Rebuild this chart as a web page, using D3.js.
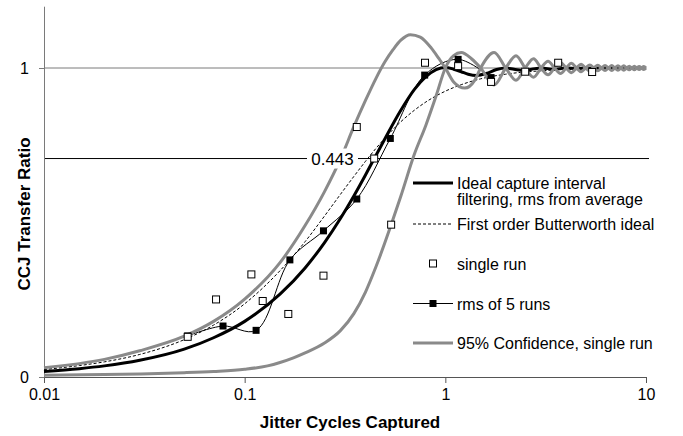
<!DOCTYPE html>
<html>
<head>
<meta charset="utf-8">
<script src="https://cdn.jsdelivr.net/npm/d3@7"></script>
<style>
  body { margin: 0; background: #fff; }
  text { font-family: Arial, "Liberation Sans", sans-serif; }
</style>
</head>
<body>
<div id="chart"></div>
<script>
// Chart values
const xTicks = [0.01, 0.1, 1, 10];
const xTickLabels = ["0.01", "0.1", "1", "10"];
const yTicks = [0, 1];
const yTickLabels = ["0", "1"];
const markLevel = 0.707;      // -3 dB line
const markLabel = "0.443";    // crossing of the ideal curve

// Ideal capture interval filtering, rms from average
const idealCurve = [
    [0.01, 0.018], [0.015, 0.027], [0.02, 0.036], [0.03, 0.054], [0.05, 0.090],
    [0.07, 0.127], [0.1, 0.180], [0.15, 0.268], [0.2, 0.353], [0.25, 0.435],
    [0.3, 0.513], [0.35, 0.586], [0.4, 0.654], [0.45, 0.716], [0.5, 0.771],
    [0.6, 0.863], [0.7, 0.930], [0.8, 0.972], [0.9, 0.995], [1.0, 1.002],
    [1.1, 0.996], [1.2, 0.988], [1.3, 0.980], [1.43, 0.976], [1.6, 0.982],
    [1.8, 0.995], [2.0, 1.0], [2.2, 0.996], [2.46, 0.992], [2.8, 0.998],
    [3.0, 1.0], [3.47, 0.996], [4.0, 1.0], [4.5, 0.998], [5.0, 1.0],
    [5.5, 0.998], [6.0, 1.0], [8.0, 1.0], [10, 1.0]
];

// First order Butterworth ideal
const butterworthCurve = [
    [0.01, 0.024], [0.015, 0.037], [0.02, 0.049], [0.03, 0.073], [0.05, 0.121],
    [0.07, 0.168], [0.1, 0.237], [0.15, 0.344], [0.2, 0.438], [0.25, 0.521],
    [0.3, 0.591], [0.35, 0.649], [0.4, 0.698], [0.45, 0.739], [0.5, 0.773],
    [0.6, 0.826], [0.7, 0.863], [0.8, 0.890], [1.0, 0.925], [1.2, 0.946],
    [1.5, 0.965], [2.0, 0.980], [3.0, 0.991], [5.0, 0.997], [10, 0.999]
];

// single run
const singleRun = [
    [0.052, 0.130], [0.072, 0.251], [0.108, 0.332], [0.123, 0.246], [0.165, 0.204],
    [0.247, 0.328], [0.362, 0.809], [0.442, 0.707], [0.537, 0.493], [0.792, 1.017],
    [1.158, 1.006], [1.69, 0.955], [2.50, 0.988], [3.65, 1.017], [5.39, 0.987]
];

// rms of 5 runs
const rmsRuns = [
    [0.052, 0.133], [0.078, 0.165], [0.114, 0.151], [0.168, 0.379], [0.247, 0.473],
    [0.362, 0.576], [0.532, 0.772], [0.789, 0.977], [1.158, 1.028], [1.69, 0.969]
];

// 95% Confidence, single run (upper and lower bound)
const confUpper = [
    [0.01, 0.030], [0.02, 0.057], [0.03, 0.085], [0.05, 0.132], [0.07, 0.180],
    [0.1, 0.252], [0.15, 0.370], [0.2, 0.490], [0.25, 0.600], [0.3, 0.705],
    [0.35, 0.810], [0.4, 0.895], [0.45, 0.965], [0.5, 1.020], [0.55, 1.060],
    [0.6, 1.090], [0.67, 1.108], [0.75, 1.100], [0.85, 1.065], [0.93, 1.030],
    [1.0, 1.0], [1.1, 0.955], [1.25, 0.935], [1.4, 0.960], [1.5, 1.0],
    [1.75, 1.050], [2.0, 1.0], [2.25, 0.960], [2.5, 1.0], [2.75, 1.030],
    [3.0, 1.0], [3.25, 0.978], [3.5, 1.0], [3.75, 1.018], [4.0, 1.0],
    [4.25, 0.985], [4.5, 1.0], [4.75, 1.012], [5.0, 1.0], [5.25, 0.990],
    [5.5, 1.0], [5.75, 1.009], [6.0, 1.0], [6.25, 0.992], [6.5, 1.0],
    [6.75, 1.008], [7.0, 1.0], [7.25, 0.993], [7.5, 1.0], [7.75, 1.007],
    [8.0, 1.0], [8.25, 0.994], [8.5, 1.0], [8.75, 1.006], [9.0, 1.0],
    [9.25, 0.995], [9.5, 1.0], [9.75, 1.005], [10, 1.0]
];
const confLower = [
    [0.01, 0.006], [0.02, 0.008], [0.03, 0.010], [0.05, 0.014], [0.07, 0.018],
    [0.1, 0.025], [0.13, 0.036], [0.15, 0.047], [0.175, 0.062], [0.2, 0.078],
    [0.25, 0.110], [0.3, 0.150], [0.35, 0.205], [0.4, 0.275], [0.45, 0.355],
    [0.5, 0.435], [0.537, 0.493], [0.6, 0.585], [0.7, 0.720], [0.8, 0.815],
    [0.9, 0.910], [1.0, 1.0], [1.1, 1.040], [1.2, 1.050], [1.35, 1.030],
    [1.5, 1.0], [1.75, 0.945], [2.0, 1.0], [2.25, 1.040], [2.5, 1.0],
    [2.75, 0.970], [3.0, 1.0], [3.25, 1.022], [3.5, 1.0], [3.75, 0.982],
    [4.0, 1.0], [4.25, 1.015], [4.5, 1.0], [4.75, 0.988], [5.0, 1.0],
    [5.25, 1.010], [5.5, 1.0], [5.75, 0.991], [6.0, 1.0], [6.25, 1.008],
    [6.5, 1.0], [6.75, 0.992], [7.0, 1.0], [7.25, 1.007], [7.5, 1.0],
    [7.75, 0.993], [8.0, 1.0], [8.25, 1.006], [8.5, 1.0], [8.75, 0.994],
    [9.0, 1.0], [9.25, 1.005], [9.5, 1.0], [9.75, 0.995], [10, 1.0]
];

const legendItems = [
    { type: "ideal", lines: ["Ideal capture interval", "filtering, rms from average"] },
    { type: "butter", lines: ["First order Butterworth ideal"] },
    { type: "single", lines: ["single run"] },
    { type: "rms", lines: ["rms of 5 runs"] },
    { type: "conf", lines: ["95% Confidence, single run"] }
];

// Graph dimension
const W = 683, H = 436;
const plot = { left: 44, right: 646, top: 6.2, bottom: 377 };
const grey = "#8a8a8a";

const svg = d3.select("#chart").append("svg")
    .attr("width", W)
    .attr("height", H);

const x = d3.scaleLog().domain([0.01, 10]).range([plot.left, plot.right]);
const y = d3.scaleLinear().domain([0, 1.2]).range([plot.bottom, plot.top]);

// gridline at 1
svg.append("line")
    .attr("x1", plot.left).attr("x2", plot.right)
    .attr("y1", y(1)).attr("y2", y(1))
    .attr("stroke", "#7a7a7a").attr("stroke-width", 1);

// -3 dB line with its label
svg.append("line")
    .attr("x1", plot.left).attr("x2", 649)
    .attr("y1", y(markLevel)).attr("y2", y(markLevel))
    .attr("stroke", "#000").attr("stroke-width", 1);

// axes
const xAxis = d3.axisBottom(x).tickValues(xTicks)
    .tickFormat((d, i) => xTickLabels[i]).tickSize(6).tickSizeOuter(0);
const gx = svg.append("g")
    .attr("transform", `translate(0,${plot.bottom})`)
    .call(xAxis);
gx.select(".domain").attr("stroke", "#555");
gx.selectAll(".tick line").attr("stroke", "#555");
gx.selectAll(".tick text")
    .attr("font-size", "16px").attr("fill", "#000")
    .attr("font-family", "Arial, 'Liberation Sans', sans-serif")
    .attr("dy", null).attr("y", 23);

const yAxis = d3.axisLeft(y).tickValues(yTicks)
    .tickFormat((d, i) => yTickLabels[i]).tickSize(5).tickSizeOuter(0);
const gy = svg.append("g")
    .attr("transform", `translate(${plot.left},0)`)
    .call(yAxis);
gy.select(".domain").attr("stroke", "#7a7a7a");
gy.selectAll(".tick line").attr("stroke", "#7a7a7a");
gy.selectAll(".tick text")
    .attr("font-size", "16px").attr("fill", "#000")
    .attr("font-family", "Arial, 'Liberation Sans', sans-serif")
    .attr("x", -15).attr("dy", "0.36em");

// curves
const line = d3.line()
    .x(d => x(d[0]))
    .y(d => y(d[1]))
    .curve(d3.curveMonotoneX);

const smooth = d3.line()
    .x(d => x(d[0]))
    .y(d => y(d[1]))
    .curve(d3.curveCatmullRom.alpha(0.5));

svg.append("path").datum(idealCurve)
    .attr("d", line).attr("fill", "none")
    .attr("stroke", "#000").attr("stroke-width", 3);

svg.append("path").datum(butterworthCurve)
    .attr("d", line).attr("fill", "none")
    .attr("stroke", "#000").attr("stroke-width", 1)
    .attr("stroke-dasharray", "3,2");

svg.append("path").datum(rmsRuns)
    .attr("d", smooth).attr("fill", "none")
    .attr("stroke", "#000").attr("stroke-width", 1);

[confUpper, confLower].forEach(c => {
    svg.append("path").datum(c)
        .attr("d", line).attr("fill", "none")
        .attr("stroke", grey).attr("stroke-width", 3);
});

// markers
const sq = 7;
svg.selectAll(".rms").data(rmsRuns).enter().append("rect")
    .attr("class", "rms")
    .attr("x", d => x(d[0]) - sq / 2).attr("y", d => y(d[1]) - sq / 2)
    .attr("width", sq).attr("height", sq)
    .attr("fill", "#000");

svg.selectAll(".single").data(singleRun).enter().append("rect")
    .attr("class", "single")
    .attr("x", d => x(d[0]) - sq / 2).attr("y", d => y(d[1]) - sq / 2)
    .attr("width", sq).attr("height", sq)
    .attr("fill", "#fff").attr("stroke", "#000").attr("stroke-width", 1);

// label on the -3 dB line
svg.append("rect")
    .attr("x", 307).attr("y", y(markLevel) - 10)
    .attr("width", 51).attr("height", 20)
    .attr("fill", "#fff");
svg.append("text")
    .attr("x", 332.5).attr("y", y(markLevel) + 6.5)
    .attr("text-anchor", "middle")
    .attr("font-size", "17px")
    .text(markLabel);

// legend
const legend = svg.append("g");
const lx0 = 413, lx1 = 453, tx = 457;
const rowY = [183, 224, 263.5, 303.5, 343];
legendItems.forEach((item, i) => {
    const cy = rowY[i];
    if (item.type === "ideal") {
        legend.append("line").attr("x1", lx0).attr("x2", lx1).attr("y1", cy).attr("y2", cy)
            .attr("stroke", "#000").attr("stroke-width", 3);
    } else if (item.type === "butter") {
        legend.append("line").attr("x1", lx0).attr("x2", lx1).attr("y1", cy).attr("y2", cy)
            .attr("stroke", "#000").attr("stroke-width", 1).attr("stroke-dasharray", "3,2");
    } else if (item.type === "single") {
        legend.append("rect").attr("x", 433 - sq / 2).attr("y", cy - sq / 2)
            .attr("width", sq).attr("height", sq)
            .attr("fill", "#fff").attr("stroke", "#000");
    } else if (item.type === "rms") {
        legend.append("line").attr("x1", lx0).attr("x2", lx1).attr("y1", cy).attr("y2", cy)
            .attr("stroke", "#000").attr("stroke-width", 1);
        legend.append("rect").attr("x", 433 - sq / 2).attr("y", cy - sq / 2)
            .attr("width", sq).attr("height", sq).attr("fill", "#000");
    } else {
        legend.append("line").attr("x1", lx0).attr("x2", lx1).attr("y1", cy).attr("y2", cy)
            .attr("stroke", grey).attr("stroke-width", 3);
    }
    item.lines.forEach((t, j) => {
        legend.append("text")
            .attr("x", tx).attr("y", cy + 6 + j * 15.5)
            .attr("font-size", "16px")
            .text(t);
    });
});

// axis titles
svg.append("text")
    .attr("x", (plot.left + plot.right) / 2 + 5).attr("y", 428)
    .attr("text-anchor", "middle")
    .attr("font-size", "17px").attr("font-weight", "bold")
    .text("Jitter Cycles Captured");

svg.append("text")
    .attr("transform", "translate(30,214) rotate(-90)")
    .attr("text-anchor", "middle")
    .attr("font-size", "17px").attr("font-weight", "bold")
    .text("CCJ Transfer Ratio");
</script>
</body>
</html>
